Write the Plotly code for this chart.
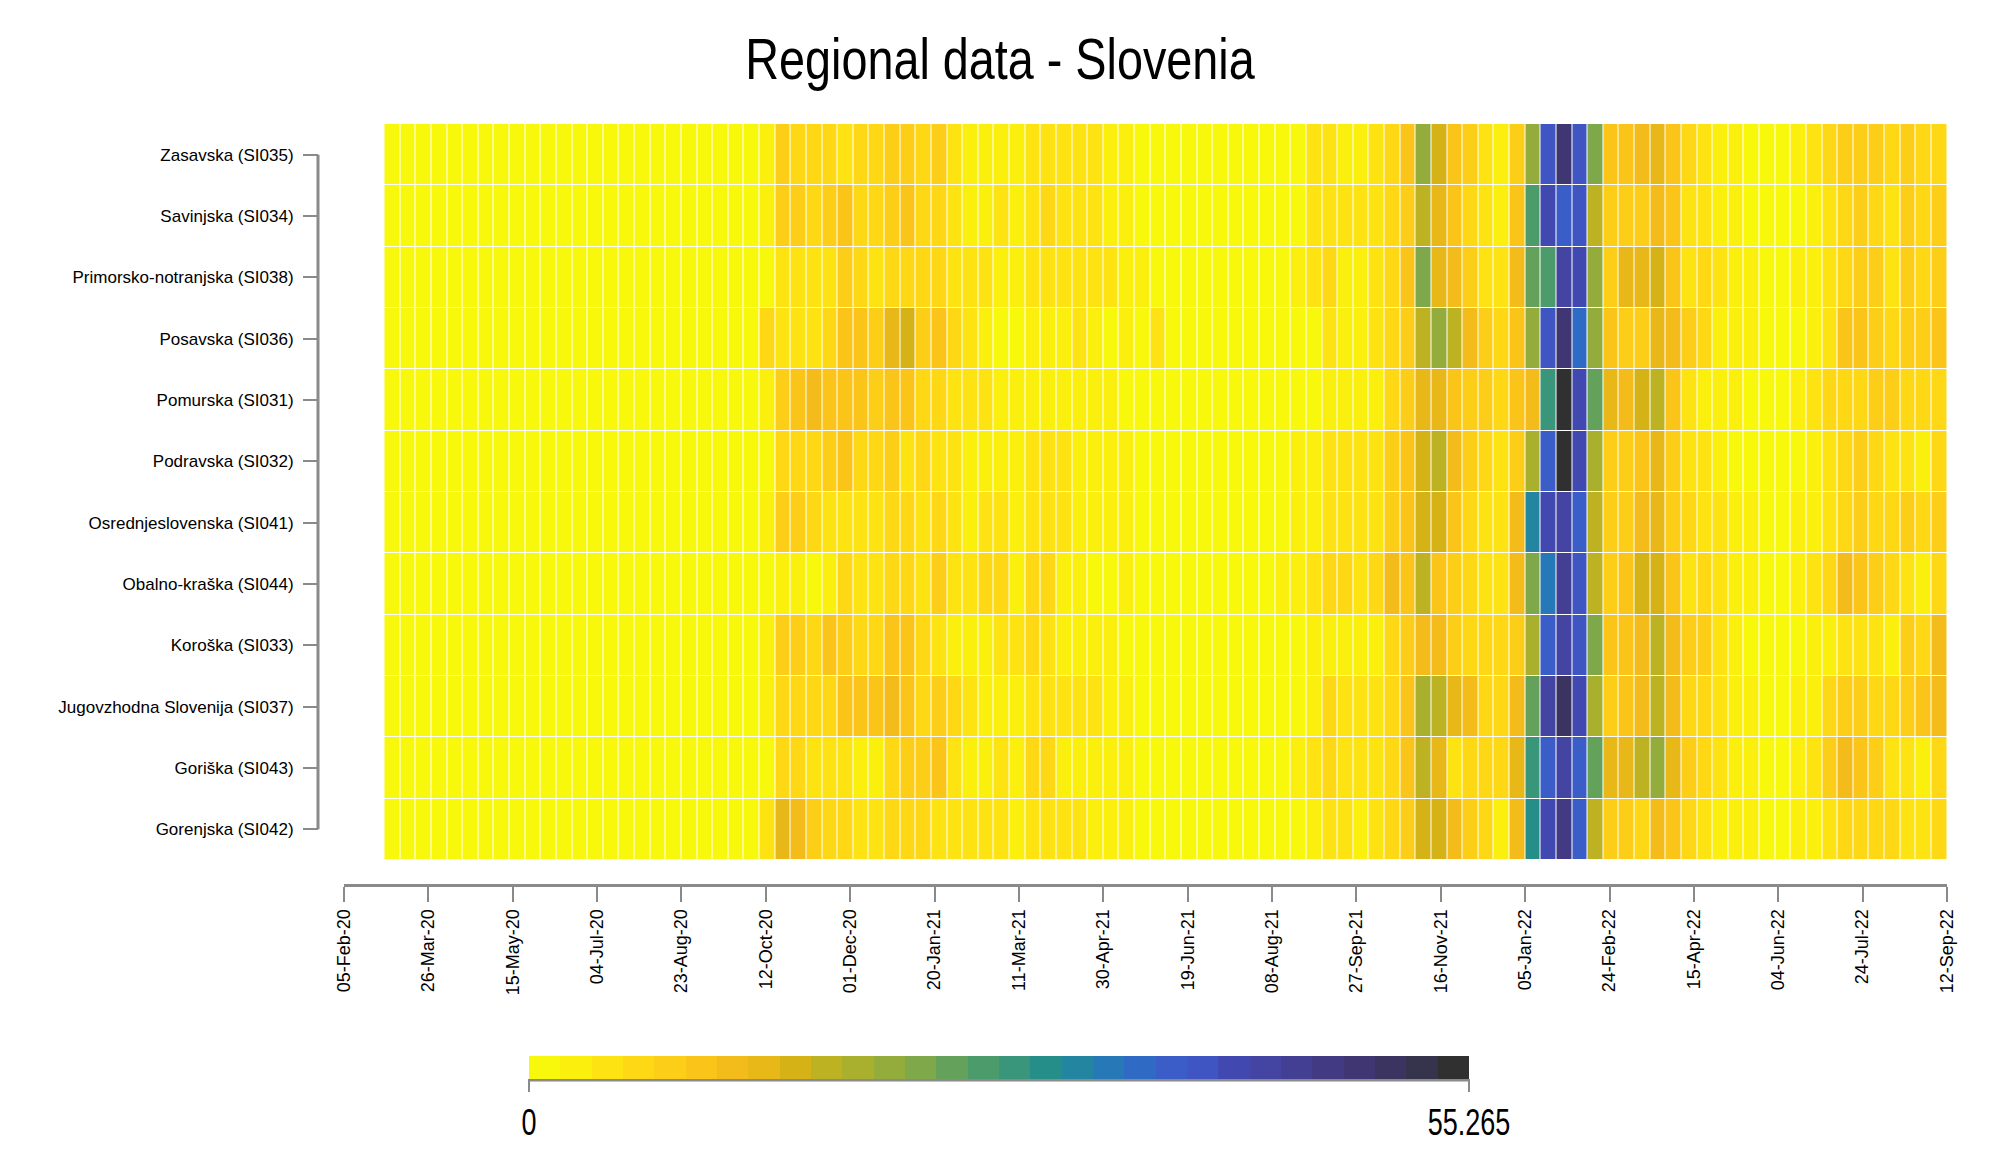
import plotly.graph_objects as go
import pandas as pd

regions = ["Zasavska (SI035)", "Savinjska (SI034)", "Primorsko-notranjska (SI038)",
           "Posavska (SI036)", "Pomurska (SI031)", "Podravska (SI032)",
           "Osrednjeslovenska (SI041)", "Obalno-kraška (SI044)", "Koroška (SI033)",
           "Jugovzhodna Slovenija (SI037)", "Goriška (SI043)", "Gorenjska (SI042)"]

zasavska = [0.9,0.9,0.9,0.9,0.9,0.9,0.9,0.9,0.9,0.9,0.9,0.9,0.9,0.9,0.9,0.9,0.9,0.9,0.9,0.9,
            0.9,0.9,0.9,0.9,2.8,8.3,6.4,6.4,6.4,4.6,6.4,6.4,8.3,8.3,6.4,8.3,4.6,2.8,2.8,2.8,2.8,
            4.6,4.6,4.6,4.6,4.6,2.8,2.8,0.9,0.9,0.9,0.9,0.9,0.9,0.9,0.9,0.9,0.9,0.9,4.6,4.6,
            2.8,2.8,4.6,6.4,10.1,21.2,15.7,10.1,8.3,4.6,2.8,8.3,21.2,39.6,48.8,39.6,23.0,10.1,10.1,12.0,
            13.8,10.1,6.4,4.6,2.8,2.8,0.9,0.9,0.9,2.8,4.6,6.4,8.3,8.3,8.3,6.4,8.3,6.4,6.4]
savinjska = [0.9,0.9,0.9,0.9,0.9,0.9,0.9,0.9,0.9,0.9,0.9,0.9,0.9,0.9,0.9,0.9,0.9,0.9,0.9,0.9,
             0.9,0.9,0.9,0.9,2.8,8.3,8.3,6.4,8.3,10.1,6.4,6.4,8.3,10.1,6.4,6.4,4.6,2.8,2.8,4.6,2.8,
             4.6,6.4,4.6,4.6,4.6,2.8,2.8,0.9,0.9,0.9,0.9,0.9,0.9,0.9,0.9,0.9,0.9,0.9,4.6,4.6,
             4.6,4.6,4.6,6.4,8.3,17.5,13.8,10.1,6.4,4.6,2.8,10.1,26.7,41.4,37.8,39.6,17.5,8.3,8.3,8.3,
             12.0,10.1,4.6,4.6,2.8,2.8,0.9,0.9,0.9,0.9,2.8,4.6,6.4,8.3,6.4,4.6,8.3,6.4,8.3]
primorsko = [0.9,0.9,0.9,0.9,0.9,0.9,0.9,0.9,0.9,0.9,0.9,0.9,0.9,0.9,0.9,0.9,0.9,0.9,0.9,0.9,
             0.9,0.9,0.9,0.9,0.9,4.6,4.6,4.6,4.6,8.3,6.4,4.6,6.4,6.4,6.4,6.4,4.6,4.6,4.6,2.8,2.8,
             4.6,4.6,4.6,4.6,4.6,4.6,2.8,2.8,0.9,0.9,0.9,0.9,0.9,0.9,0.9,0.9,0.9,2.8,4.6,6.4,
             2.8,2.8,4.6,6.4,10.1,23.0,13.8,12.0,8.3,4.6,4.6,12.0,24.9,26.7,43.3,41.4,21.2,8.3,13.8,13.8,
             15.7,10.1,4.6,6.4,4.6,2.8,2.8,0.9,0.9,2.8,2.8,4.6,6.4,8.3,8.3,4.6,8.3,6.4,8.3]
posavska = [0.9,0.9,0.9,0.9,0.9,0.9,0.9,0.9,0.9,0.9,0.9,0.9,0.9,0.9,0.9,0.9,0.9,0.9,0.9,0.9,
            0.9,0.9,0.9,0.9,6.4,4.6,4.6,4.6,6.4,10.1,10.1,8.3,13.8,15.7,8.3,10.1,6.4,4.6,2.8,0.9,0.9,
            2.8,2.8,2.8,4.6,2.8,0.9,2.8,0.9,4.6,0.9,0.9,0.9,0.9,0.9,0.9,0.9,0.9,0.9,0.9,4.6,
            2.8,2.8,4.6,6.4,8.3,17.5,21.2,17.5,12.0,8.3,6.4,10.1,21.2,39.6,48.8,35.9,21.2,10.1,8.3,8.3,
            13.8,12.0,8.3,6.4,2.8,2.8,2.8,0.9,0.9,0.9,2.8,4.6,10.1,10.1,8.3,6.4,8.3,8.3,10.1]
pomurska = [0.9,0.9,0.9,0.9,0.9,0.9,0.9,0.9,0.9,0.9,0.9,0.9,0.9,0.9,0.9,0.9,0.9,0.9,0.9,0.9,
            0.9,0.9,0.9,0.9,2.8,8.3,10.1,12.0,10.1,10.1,10.1,8.3,10.1,10.1,6.4,6.4,4.6,4.6,4.6,2.8,2.8,
            2.8,2.8,2.8,2.8,2.8,2.8,0.9,0.9,0.9,0.9,0.9,0.9,0.9,0.9,0.9,0.9,0.9,0.9,0.9,2.8,
            2.8,2.8,2.8,6.4,8.3,13.8,13.8,10.1,8.3,8.3,6.4,10.1,12.0,28.6,55.265,41.4,24.9,13.8,12.0,15.7,
            17.5,10.1,4.6,2.8,2.8,2.8,0.9,0.9,0.9,2.8,4.6,6.4,6.4,6.4,8.3,8.3,6.4,6.4,6.4]
podravska = [0.9,0.9,0.9,0.9,0.9,0.9,0.9,0.9,0.9,0.9,0.9,0.9,0.9,0.9,0.9,0.9,0.9,0.9,0.9,0.9,
             0.9,0.9,0.9,0.9,0.9,6.4,6.4,6.4,8.3,10.1,6.4,6.4,8.3,4.6,6.4,4.6,4.6,2.8,2.8,2.8,2.8,
             4.6,4.6,4.6,2.8,2.8,2.8,2.8,0.9,0.9,0.9,0.9,0.9,0.9,0.9,0.9,0.9,0.9,2.8,2.8,4.6,
             4.6,4.6,4.6,8.3,10.1,15.7,17.5,12.0,8.3,6.4,4.6,8.3,19.3,37.8,54.6,41.4,19.3,8.3,8.3,10.1,
             13.8,8.3,4.6,4.6,2.8,0.9,0.9,0.9,0.9,0.9,2.8,4.6,6.4,8.3,6.4,4.6,4.6,2.8,6.4]
osrednjeslovenska = [0.9,0.9,0.9,0.9,0.9,0.9,0.9,0.9,0.9,0.9,0.9,0.9,0.9,0.9,0.9,0.9,0.9,0.9,0.9,0.9,
                     0.9,0.9,0.9,0.9,2.8,8.3,8.3,6.4,4.6,4.6,4.6,4.6,6.4,6.4,4.6,6.4,4.6,2.8,4.6,4.6,2.8,
                     4.6,4.6,4.6,2.8,2.8,2.8,2.8,0.9,0.9,0.9,0.9,0.9,0.9,0.9,0.9,0.9,0.9,2.8,2.8,4.6,
                     4.6,4.6,4.6,8.3,10.1,15.7,15.7,10.1,6.4,4.6,4.6,12.0,32.2,41.4,43.3,37.8,17.5,8.3,8.3,12.0,
                     13.8,8.3,6.4,4.6,4.6,2.8,2.8,0.9,0.9,2.8,2.8,4.6,6.4,8.3,6.4,6.4,8.3,6.4,8.3]
obalno = [0.9,0.9,0.9,0.9,0.9,0.9,0.9,0.9,0.9,0.9,0.9,0.9,0.9,0.9,0.9,0.9,0.9,0.9,0.9,0.9,
          0.9,0.9,0.9,0.9,0.9,2.8,2.8,0.9,2.8,6.4,4.6,4.6,6.4,6.4,4.6,8.3,4.6,4.6,6.4,6.4,2.8,
          6.4,6.4,2.8,2.8,0.9,0.9,2.8,0.9,0.9,0.9,0.9,0.9,0.9,0.9,0.9,0.9,2.8,2.8,4.6,6.4,
          6.4,4.6,6.4,12.0,10.1,17.5,10.1,8.3,6.4,4.6,4.6,12.0,23.0,34.1,45.1,39.6,17.5,8.3,10.1,15.7,
          15.7,10.1,4.6,6.4,4.6,2.8,2.8,0.9,0.9,2.8,4.6,6.4,12.0,10.1,8.3,6.4,4.6,2.8,6.4]
koroska = [0.9,0.9,0.9,0.9,0.9,0.9,0.9,0.9,0.9,0.9,0.9,0.9,0.9,0.9,0.9,0.9,0.9,0.9,0.9,0.9,
           0.9,0.9,0.9,0.9,2.8,8.3,8.3,6.4,10.1,8.3,6.4,6.4,10.1,10.1,6.4,4.6,2.8,2.8,2.8,4.6,4.6,
           6.4,4.6,2.8,2.8,2.8,2.8,0.9,0.9,0.9,0.9,0.9,0.9,0.9,0.9,0.9,0.9,0.9,0.9,2.8,2.8,
           2.8,2.8,2.8,6.4,8.3,12.0,12.0,8.3,6.4,6.4,6.4,8.3,19.3,37.8,43.3,39.6,23.0,10.1,10.1,12.0,
           17.5,12.0,8.3,8.3,4.6,2.8,0.9,0.9,0.9,0.9,2.8,2.8,4.6,4.6,4.6,2.8,8.3,6.4,12.0]
jugovzhodna = [0.9,0.9,0.9,0.9,0.9,0.9,0.9,0.9,0.9,0.9,0.9,0.9,0.9,0.9,0.9,0.9,0.9,0.9,0.9,0.9,
               0.9,0.9,0.9,0.9,2.8,6.4,6.4,6.4,6.4,10.1,10.1,10.1,12.0,10.1,6.4,8.3,6.4,4.6,2.8,2.8,2.8,
               4.6,4.6,4.6,4.6,4.6,2.8,2.8,0.9,0.9,0.9,0.9,0.9,0.9,0.9,0.9,0.9,0.9,0.9,2.8,6.4,
               4.6,4.6,4.6,6.4,10.1,19.3,17.5,13.8,12.0,6.4,6.4,12.0,24.9,43.3,50.7,41.4,19.3,8.3,10.1,12.0,
               17.5,12.0,6.4,6.4,4.6,2.8,2.8,0.9,0.9,2.8,2.8,6.4,8.3,8.3,6.4,6.4,8.3,10.1,12.0]
goriska = [0.9,0.9,0.9,0.9,0.9,0.9,0.9,0.9,0.9,0.9,0.9,0.9,0.9,0.9,0.9,0.9,0.9,0.9,0.9,0.9,
           0.9,0.9,0.9,0.9,0.9,6.4,6.4,4.6,4.6,4.6,2.8,2.8,6.4,8.3,8.3,10.1,4.6,2.8,2.8,4.6,2.8,
           6.4,6.4,2.8,2.8,2.8,2.8,2.8,0.9,0.9,0.9,0.9,0.9,0.9,0.9,0.9,0.9,0.9,2.8,4.6,6.4,
           4.6,4.6,4.6,6.4,10.1,17.5,13.8,4.6,6.4,6.4,6.4,13.8,28.6,37.8,43.3,37.8,24.9,13.8,13.8,17.5,
           21.2,13.8,8.3,6.4,4.6,2.8,2.8,0.9,0.9,2.8,4.6,8.3,12.0,10.1,8.3,4.6,4.6,2.8,6.4]
gorenjska = [0.9,0.9,0.9,0.9,0.9,0.9,0.9,0.9,0.9,0.9,0.9,0.9,0.9,0.9,0.9,0.9,0.9,0.9,0.9,0.9,
             0.9,0.9,0.9,0.9,4.6,13.8,12.0,8.3,6.4,6.4,4.6,4.6,6.4,6.4,6.4,4.6,4.6,4.6,4.6,4.6,2.8,
             4.6,4.6,4.6,4.6,2.8,2.8,2.8,0.9,0.9,0.9,0.9,0.9,0.9,0.9,0.9,0.9,0.9,0.9,2.8,4.6,
             4.6,2.8,4.6,6.4,8.3,15.7,15.7,12.0,8.3,6.4,2.8,12.0,30.4,41.4,47.0,37.8,17.5,8.3,8.3,6.4,
             12.0,10.1,6.4,4.6,2.8,2.8,2.8,0.9,0.9,2.8,2.8,4.6,6.4,6.4,6.4,6.4,4.6,4.6,6.4]

period_start = "2020-02-29"
period_end = "2022-09-12"
n_periods = 100

tick_dates = ["2020-02-05", "2020-03-26", "2020-05-15", "2020-07-04", "2020-08-23",
              "2020-10-12", "2020-12-01", "2021-01-20", "2021-03-11", "2021-04-30",
              "2021-06-19", "2021-08-08", "2021-09-27", "2021-11-16", "2022-01-05",
              "2022-02-24", "2022-04-15", "2022-06-04", "2022-07-24", "2022-09-12"]
tick_labels = ["05-Feb-20", "26-Mar-20", "15-May-20", "04-Jul-20", "23-Aug-20",
               "12-Oct-20", "01-Dec-20", "20-Jan-21", "11-Mar-21", "30-Apr-21",
               "19-Jun-21", "08-Aug-21", "27-Sep-21", "16-Nov-21", "05-Jan-22",
               "24-Feb-22", "15-Apr-22", "04-Jun-22", "24-Jul-22", "12-Sep-22"]

palette = ["#F8F80C", "#FBEF0E", "#FDE311", "#FED815", "#FDCE17", "#FAC419",
           "#F3BC1A", "#E8B718", "#D5B316", "#BDB221", "#A8B02E", "#93AC3C",
           "#7EA84A", "#64A25B", "#4C9C6B", "#39967A", "#268E89", "#2385A0",
           "#2778B6", "#2F6AC4", "#3A5DC8", "#3E55C2", "#4149B0", "#4444A2",
           "#433F93", "#423A83", "#3F3672", "#3B3460", "#36334C", "#303030"]
scale_min = 0
scale_max = 55.265

rows = [zasavska, savinjska, primorsko, posavska, pomurska, podravska,
        osrednjeslovenska, obalno, koroska, jugovzhodna, goriska, gorenjska]
for r in rows:
    assert len(r) == n_periods, len(r)

edges = pd.date_range(period_start, period_end, periods=n_periods + 1)

n = len(palette)
colorscale = []
for i, c in enumerate(palette):
    colorscale.append([i / n, c])
    colorscale.append([(i + 1) / n, c])

# pixel layout helpers
W, H = 2000, 1176
ML, MR, MT, MB = 318, 53, 124, 291
PW, PH = W - ML - MR, H - MT - MB
px_x = lambda p: (p - ML) / PW
px_y = lambda p: (H - MB - p) / PH

GREY = "#8a8a8a"
LAB_FONT = "Liberation Sans, Arial, sans-serif"
NARROW = "Liberation Sans Narrow, Arial Narrow, Liberation Sans, sans-serif"

fig = go.Figure(go.Heatmap(
    z=rows, x=edges, y=regions,
    colorscale=colorscale, zmin=scale_min, zmax=scale_max,
    xgap=1, ygap=1, hoverinfo="skip",
    colorbar=dict(
        orientation="h", thicknessmode="pixels", thickness=23,
        lenmode="pixels", len=940,
        x=px_x(999), xanchor="center", y=px_y(1056), yanchor="top",
        xpad=0, ypad=0, outlinewidth=0,
        tickmode="array", tickvals=[scale_min, scale_max],
        ticktext=["0", "55.265"],
        ticks="outside", ticklen=13, tickwidth=2, tickcolor=GREY,
        tickfont=dict(family=NARROW, size=36, color="black"),
    ),
))

fig.update_layout(
    width=W, height=H,
    margin=dict(l=ML, r=MR, t=MT, b=MB, autoexpand=False),
    paper_bgcolor="white", plot_bgcolor="white",
    title=dict(text="Regional data - Slovenia", x=0.5, xanchor="center",
               xref="container", yref="container", y=1 - 59 / H, yanchor="middle",
               font=dict(family=NARROW, size=57, color="black")),
    xaxis=dict(type="date", domain=[px_x(344), 1],
               range=[tick_dates[0], tick_dates[-1]],
               anchor="free", position=0,
               showline=True, linecolor=GREY, linewidth=3,
               ticks="outside", ticklen=15, tickwidth=2, tickcolor=GREY,
               tickmode="array", tickvals=tick_dates, ticktext=tick_labels,
               tickangle=-90, tickfont=dict(family=LAB_FONT, size=18, color="black"),
               showgrid=False, zeroline=False),
    yaxis=dict(domain=[(885 - 860) / PH, 1], anchor="free", position=0,
               autorange="reversed", showline=False,
               ticks="outside", ticklen=15, tickwidth=2, tickcolor=GREY,
               ticklabelstandoff=6,
               tickfont=dict(family=LAB_FONT, size=17, color="black"),
               showgrid=False, zeroline=False),
    shapes=[
        dict(type="line", xref="paper", yref="y", x0=0, x1=0,
             y0=0, y1=len(regions) - 1, line=dict(color=GREY, width=3)),
        dict(type="line", xref="paper", yref="paper", x0=px_x(529), x1=px_x(1469),
             y0=px_y(1080), y1=px_y(1080), line=dict(color=GREY, width=3)),
    ],
)

post_js = """
document.body.style.margin = '0';
function squeeze(sel, ratio) {
  document.querySelectorAll(sel).forEach(function (t) {
    var w = t.getComputedTextLength();
    if (w > 0) {
      t.setAttribute('textLength', (w * ratio).toFixed(1));
      t.setAttribute('lengthAdjust', 'spacingAndGlyphs');
    }
  });
}
squeeze('.gtitle', 0.82);
squeeze('.colorbar text', 0.75);
"""

fig.write_html("out.html", post_script=post_js, config={"displayModeBar": False})
